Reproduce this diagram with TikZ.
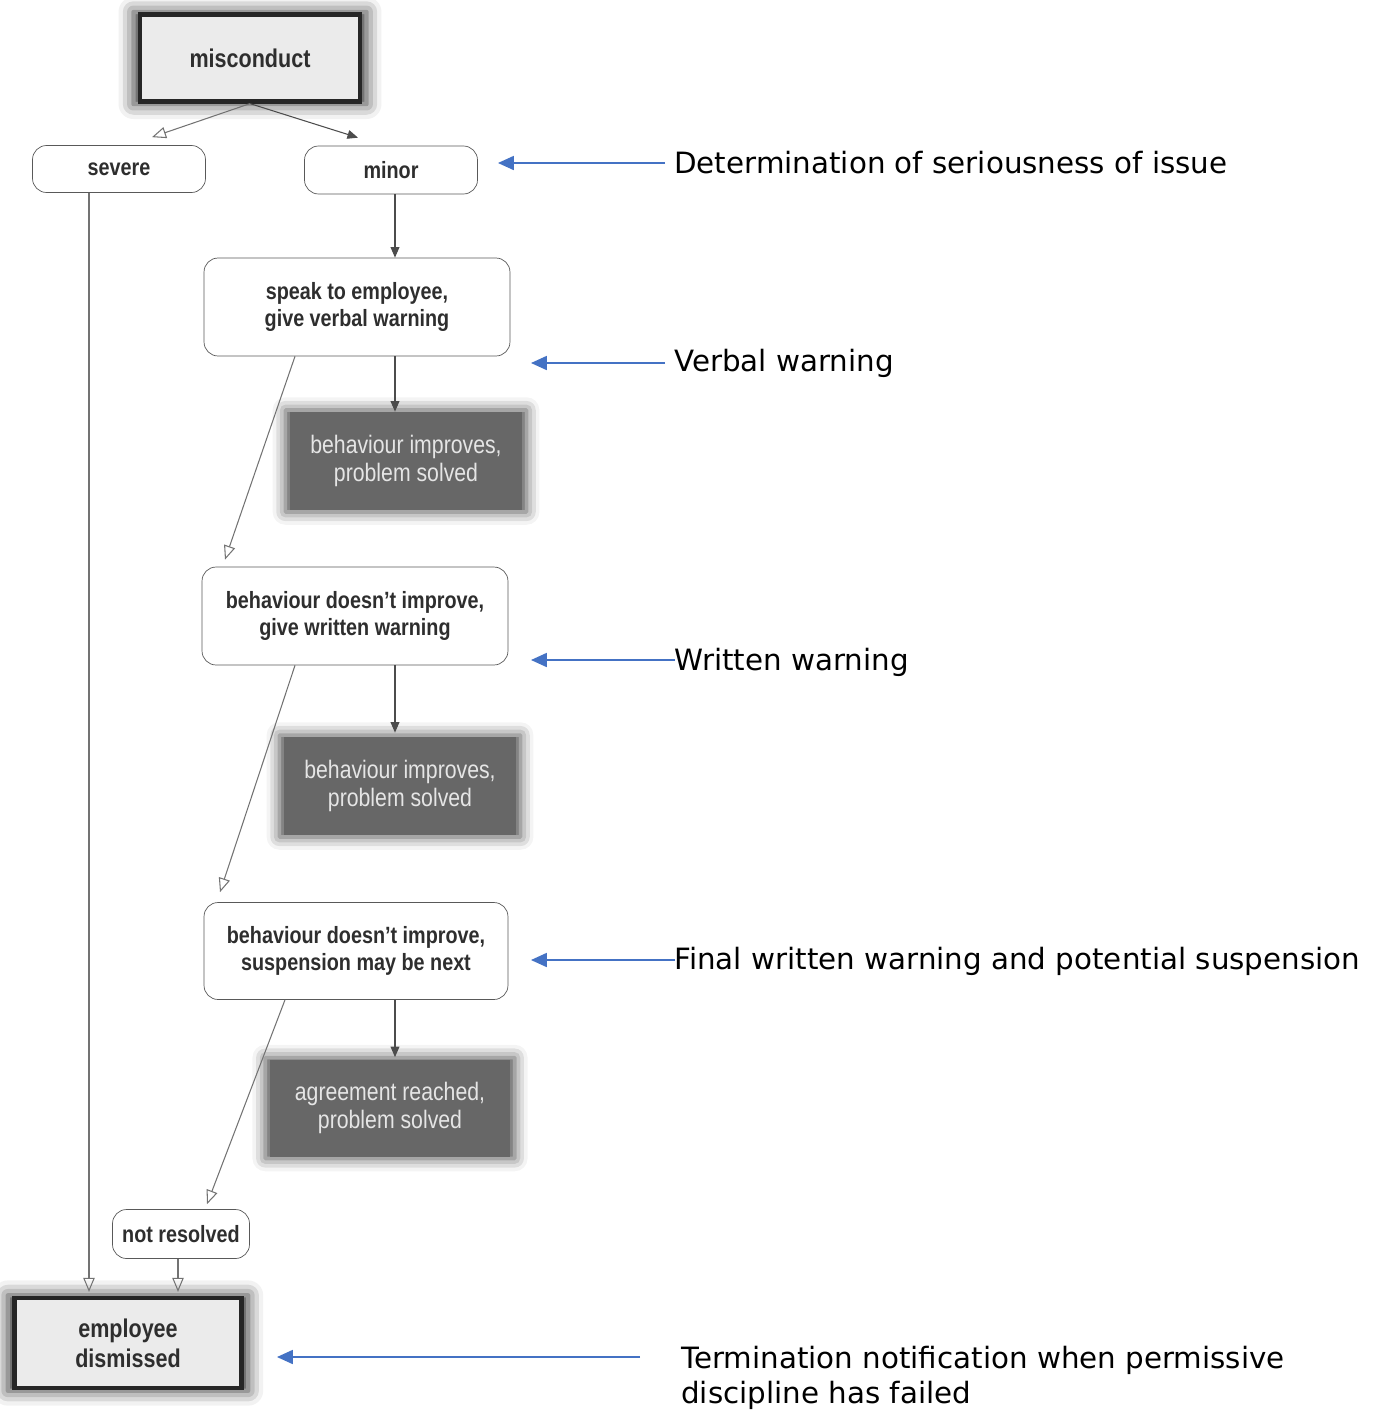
\documentclass[tikz,border=0pt]{standalone}
\usepackage{fontspec}
\setmainfont{DejaVu Sans}
\newfontfamily\boxfont[FakeStretch=0.84]{Liberation Sans}
\usepackage{tikz}
\usetikzlibrary{arrows.meta,calc,shadows.blur}
\definecolor{lineblue}{HTML}{4472C4}
\definecolor{boxgray}{HTML}{EBEBEB}
\definecolor{darkfill}{HTML}{676767}
\tikzstyle{choice} = [rectangle, rounded corners=8pt, draw=black!65, fill=white, text=black!82, font=\boxfont\bfseries\fontsize{13.4}{15}\selectfont, align=center]
\tikzstyle{endbox} = [rectangle, draw=black!85, line width=2.4pt, fill=boxgray, text=black!82, font=\boxfont\bfseries\fontsize{14.6}{17}\selectfont, align=center, blur shadow={shadow xshift=0pt, shadow yshift=0pt, shadow blur radius=8pt, shadow scale=1.06, shadow opacity=80}]
\tikzstyle{outcome} = [rectangle, fill=darkfill, text=black!10, font=\boxfont\fontsize{14.4}{16}\selectfont, align=center, blur shadow={shadow xshift=0pt, shadow yshift=0pt, shadow blur radius=7pt, shadow scale=1.04, shadow opacity=70}]
\tikzstyle{flow} = [draw=black!70, line width=0.6pt, -{Triangle[length=6pt, width=5pt]}]
\tikzstyle{flowopen} = [draw=black!55, line width=0.6pt, -{Triangle[open, length=8pt, width=6.5pt]}]
\tikzstyle{note} = [draw=lineblue, line width=0.8pt, -{Triangle[length=9pt, width=8pt]}]
\tikzstyle{label} = [anchor=west, inner sep=0pt, font=\fontsize{16.7}{19.9}\selectfont, align=left]

\begin{document}
\begin{tikzpicture}[x=0.02cm, y=-0.02cm]
 \useasboundingbox (0,0) rectangle (1379,1411);

 % flow chart
 \node (mis) [endbox, minimum width=4.4cm, minimum height=1.74cm] at (250,58) {misconduct};
 \node (severe) [choice, minimum width=3.46cm, minimum height=0.94cm] at (119,169) {severe};
 \node (minor) [choice, minimum width=3.46cm, minimum height=0.96cm] at (391,170) {minor};
 \node (speak) [choice, minimum width=6.12cm, minimum height=1.96cm] at (357,307) {speak to employee,\\give verbal warning};
 \node (imp1) [outcome, minimum width=4.64cm, minimum height=1.96cm] at (406,461) {behaviour improves,\\problem solved};
 \node (written) [choice, minimum width=6.12cm, minimum height=1.96cm] at (355,616) {behaviour doesn’t improve,\\give written warning};
 \node (imp2) [outcome, minimum width=4.64cm, minimum height=1.96cm] at (400,786) {behaviour improves,\\problem solved};
 \node (final) [choice, minimum width=6.08cm, minimum height=1.94cm] at (356,951) {behaviour doesn’t improve,\\suspension may be next};
 \node (agree) [outcome, minimum width=4.8cm, minimum height=1.94cm] at (390,1108) {agreement reached,\\problem solved};
 \node (notres) [choice, minimum width=2.74cm, minimum height=0.98cm] at (181,1234) {not resolved};
 \node (dismiss) [endbox, minimum width=4.54cm, minimum height=1.8cm] at (128,1343) {employee\\dismissed};

 \draw[flowopen] (mis.south) -- ($(severe.north)+(33,-8)$);
 \draw[flow] (mis.south) -- ($(minor.north)+(-33,-8)$);
 \draw[flow] ($(minor.south)+(4,0)$) -- ($(minor.south |- speak.north)+(4,0)$);
 \draw[flow] ($(speak.south)+(38,0)$) -- ($(speak.south |- imp1.north)+(38,0)$);
 \draw[flowopen] ($(speak.south)+(-62,0)$) -- ($(written.north)+(-130,-7)$);
 \draw[flow] ($(written.south)+(40,0)$) -- ($(written.south |- imp2.north)+(40,-4)$);
 \draw[flowopen] ($(written.south)+(-60,0)$) -- ($(final.north)+(-136,-10)$);
 \draw[flow] ($(final.south)+(39,0)$) -- ($(final.south |- agree.north)+(39,-2)$);
 \draw[flowopen] ($(final.south)+(-71,0)$) -- ($(notres.north)+(26,-5)$);
 \draw[flowopen] ($(notres.south)+(-3,0)$) -- ($(notres.south |- dismiss.north)+(-3,-4)$);
 \draw[flowopen] ($(severe.south)+(-30,0)$) -- ($(severe.south |- dismiss.north)+(-30,-4)$);

 % stage notes
 \node (lab1) [label] at (674,163) {Determination of seriousness of issue};
 \node (lab2) [label] at (674,363) {Verbal warning};
 \node (lab3) [label] at (674,662) {Written warning};
 \node (lab4) [label] at (674,961) {Final written warning and potential suspension};
 \node (lab5) [label] at (681,1378) {Termination notification when permissive\\discipline has failed};

 \coordinate (p1) at (498,163);
 \coordinate (p2) at (531,363);
 \coordinate (p3) at (531,660);
 \coordinate (p4) at (531,960);
 \coordinate (p5) at (277,1357);
 \coordinate (q5) at (640,1357);

 \draw[note] ($(lab1.west)+(-9,0)$) -- (p1);
 \draw[note] ($(lab2.west)+(-9,0)$) -- (p2);
 \draw[note] ($(lab3.west)+(1,-2)$) -- (p3);
 \draw[note] ($(lab4.west)+(1,-1)$) -- (p4);
 \draw[note] (q5) -- (p5);
\end{tikzpicture}
\end{document}
